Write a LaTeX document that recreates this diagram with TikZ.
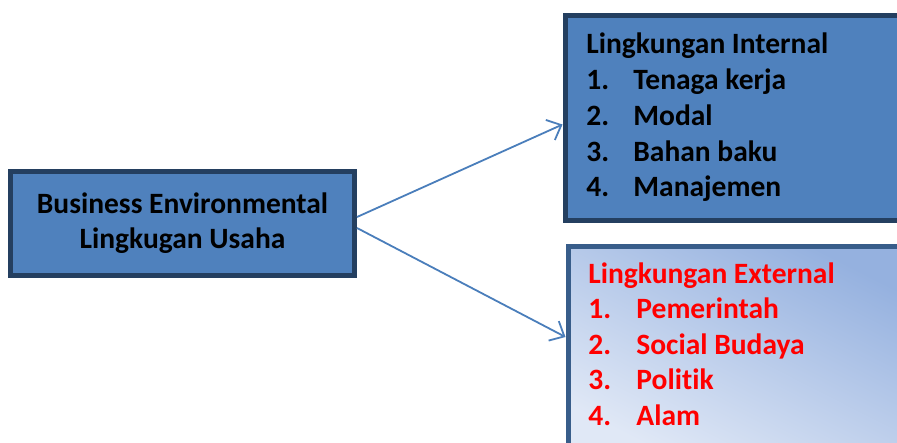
\documentclass[tikz,border=0pt]{standalone}
\usepackage{fontspec}
\setmainfont{Carlito}[Ligatures=NoCommon]
\usepackage{tikz}
\usepackage{xcolor}
\usetikzlibrary{positioning,arrows.meta,calc}

\definecolor{boxfill}{HTML}{4F81BD}
\definecolor{boxline}{HTML}{243F60}
\definecolor{extline}{HTML}{385D8A}
\definecolor{extdark}{HTML}{95B1DF}
\definecolor{extlight}{HTML}{E0E8F6}
\definecolor{arrowblue}{HTML}{4A7EBB}

\begin{document}
\begin{tikzpicture}[x=0.5pt,y=-0.5pt,
  box/.style={rectangle,draw=boxline,line width=2.5pt,fill=boxfill,inner sep=0pt},
  item/.style={anchor=base west,inner sep=0pt,font=\fontsize{14.75pt}{17.75pt}\selectfont\bfseries},
  link/.style={draw=arrowblue,line width=0.9pt,-{Straight Barb[length=6pt,width=11pt]}}]
  \useasboundingbox (0,0) rectangle (897,443);
  \clip (0,0) rectangle (897,443);
  \node[box,minimum width=172pt,minimum height=52pt,align=center,
    font=\fontsize{14.75pt}{17.5pt}\selectfont\bfseries] (biz) at (182.5,223.5)
    {Business Environmental\\Lingkugan Usaha};
  \node[box,anchor=north west,minimum width=200pt,minimum height=102pt] (int) at (562.5,13.5) {};
  \node[box,draw=extline,anchor=north west,minimum width=170pt,minimum height=104pt,
    top color=extdark,bottom color=extlight,shading angle=-27] (ext) at (565.5,243.5) {};
  % internal list
  \node[item] (inthead) at (586,54) {Lingkungan Internal};
  \foreach \i/\t in {1/Tenaga kerja,2/Modal,3/Bahan baku,4/Manajemen}
    \node[item] (int\i) at (586,54+35.75*\i) {\makebox[23.5pt][l]{\i.}\t};
  % external list
  \node[item,text=red] (exthead) at (588,283) {Lingkungan External};
  \foreach \i/\t in {1/Pemerintah,2/Social Budaya,3/Politik,4/Alam}
    \node[item,text=red] (ext\i) at (588,283+35.5*\i) {\makebox[24pt][l]{\i.}\t};
  \draw[link] ([yshift=3.25pt]biz.east) -- ([yshift=-3.25pt]int.west);
  \draw[link] ([yshift=-2.25pt]biz.east) -- ([yshift=-46.75pt]ext.north west);
\end{tikzpicture}
\end{document}
